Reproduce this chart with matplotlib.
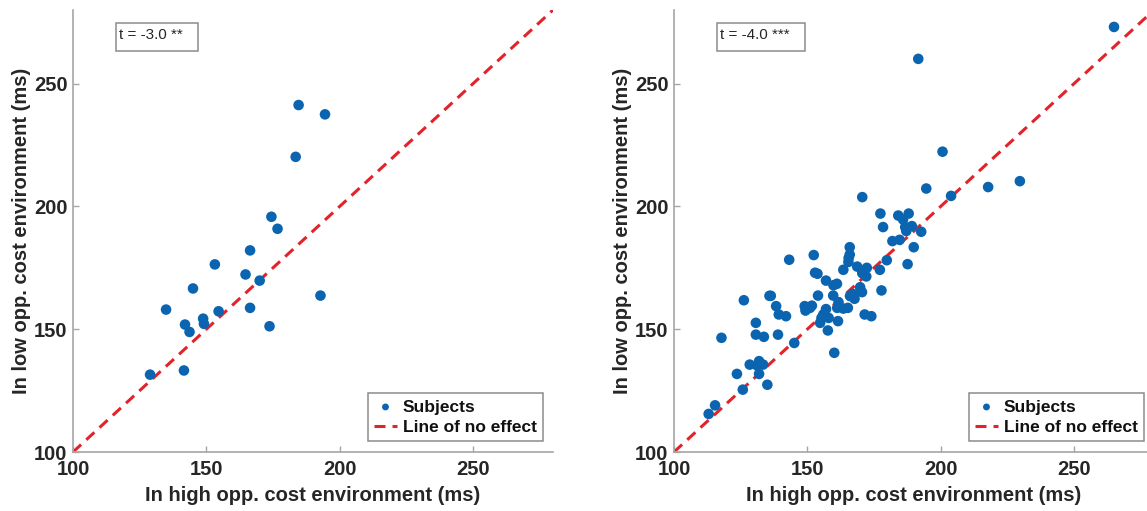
import matplotlib.pyplot as plt
from matplotlib.patches import Rectangle

# left panel: 21 subjects
high_a = [128.9, 141.6, 134.9, 142.0, 143.7, 145.0, 148.8, 149.1, 153.2, 154.6, 164.7,
          166.4, 166.4, 170.0, 173.7, 174.4, 176.7, 183.5, 184.6, 194.5, 192.8]
low_a = [131.5, 133.2, 158.0, 151.9, 148.9, 166.6, 154.3, 152.2, 176.4, 157.3, 172.3,
         182.1, 158.7, 169.8, 151.2, 195.8, 190.9, 220.2, 241.3, 237.5, 163.7]

# right panel
high_b = [265.0, 191.6, 200.7, 229.7, 194.6, 217.8, 203.9, 170.6, 177.4, 184.1, 188.0,
          185.9, 178.4, 186.7, 189.2, 192.7, 187.1, 181.9, 184.6, 189.9, 165.9, 152.4,
          143.2, 165.9, 165.4, 179.8, 187.6, 163.5, 168.7, 172.3, 170.6, 177.2, 172.1,
          152.9, 153.8, 157.0, 161.1, 159.8, 169.8, 177.8, 170.5, 167.0, 167.7, 166.0,
          154.0, 159.7, 135.8, 126.2, 161.7, 161.2, 163.5, 165.2, 138.3, 149.0, 151.7,
          149.3, 151.0, 157.0, 139.3, 142.0, 156.0, 155.3, 154.8, 158.0, 161.5, 171.5,
          174.0, 157.7, 130.7, 117.8, 130.7, 133.7, 139.0, 145.1, 160.1, 128.4, 131.9,
          133.4, 131.2, 123.6, 131.9, 135.0, 125.8, 115.4, 113.0, 165.5, 136.3]
low_b = [273.1, 260.1, 222.3, 210.3, 207.3, 207.9, 204.3, 203.8, 197.1, 196.3, 197.1,
         194.7, 191.6, 191.6, 192.0, 189.7, 190.0, 185.9, 186.4, 183.4, 183.4, 180.2,
         178.3, 180.4, 177.4, 178.1, 176.5, 174.2, 175.5, 175.0, 172.8, 174.2, 171.5,
         173.0, 172.6, 169.8, 168.5, 167.9, 167.1, 165.8, 165.1, 164.4, 162.4, 163.5,
         163.7, 163.7, 163.6, 161.8, 161.0, 158.7, 158.4, 158.7, 159.4, 159.4, 159.6,
         157.6, 158.7, 158.2, 156.0, 155.3, 156.0, 154.6, 152.6, 154.6, 153.3, 156.0,
         155.3, 149.5, 152.6, 146.5, 147.8, 146.9, 147.8, 144.4, 140.4, 135.6, 137.0,
         135.6, 135.2, 131.8, 131.8, 127.4, 125.4, 119.0, 115.5, 179.0, 163.6]

t_labels = ['t = -3.0 **', 't = -4.0 ***']
ticks = [100, 150, 200, 250]
lims = (100, 280)

plt.rcParams['font.family'] = ['Liberation Sans', 'DejaVu Sans']

blue = '#0a64b0'
red = '#e3232a'
grey = '#a6a6a6'
txt = '#262626'

fig = plt.figure(figsize=(11.47, 5.11), dpi=100)
W, H = 1147., 511.

panels = [(73, high_a, low_a, t_labels[0], 82),
          (674, high_b, low_b, t_labels[1], 88)]

for left, xs, ys, tl, boxw in panels:
    ax = fig.add_axes([left / W, 59 / H, 480 / W, 442 / H])
    ax.scatter(xs, ys, s=58, color=blue, edgecolors='none', label='Subjects', zorder=3)
    ax.axline((lims[0], lims[0]), slope=1, color=red, lw=2.2, ls=(0, (3.6, 2.3)),
              label='Line of no effect', zorder=2)
    ax.set_xlim(lims)
    ax.set_ylim(lims)
    ax.set_xticks(ticks)
    ax.set_yticks(ticks)
    for s in ['top', 'right']:
        ax.spines[s].set_visible(False)
    for s in ['left', 'bottom']:
        ax.spines[s].set_color(grey)
        ax.spines[s].set_linewidth(1.2)
    ax.tick_params(direction='in', length=4, width=1, color=grey, labelcolor=txt,
                   labelsize=14.5)
    ax.tick_params(axis='x', pad=6)
    ax.tick_params(axis='y', pad=4)
    for lab in ax.get_xticklabels() + ax.get_yticklabels():
        lab.set_fontweight('bold')
    ax.set_xlabel('In high opp. cost environment (ms)', fontsize=14.5, fontweight='bold',
                  color=txt, labelpad=5)
    ax.set_ylabel('In low opp. cost environment (ms)', fontsize=14.5, fontweight='bold',
                  color=txt, labelpad=2)

    # t-statistic annotation box
    bx, by = 43 / 480, (452 - 51) / 442
    ax.add_patch(Rectangle((bx, by), boxw / 480, 28 / 442, transform=ax.transAxes,
                           fill=False, edgecolor='#8c8c8c', lw=1.1, clip_on=False))
    ax.text(bx + 3 / 480, by + 16 / 442, tl, transform=ax.transAxes, fontsize=11,
            color=txt, va='center', ha='left')

    leg = ax.legend(loc='lower right', bbox_to_anchor=(0.979, 0.025), fancybox=False,
                    edgecolor='#8c8c8c', framealpha=1, handlelength=1.3,
                    handletextpad=0.35, borderpad=0.35, labelspacing=0.3, borderaxespad=0,
                    prop={'weight': 'bold', 'size': 12.5}, scatterpoints=1, markerscale=0.65)
    leg.get_frame().set_linewidth(1.1)
    for t in leg.get_texts():
        t.set_color('#111111')

fig.savefig('out.png', dpi=100)
